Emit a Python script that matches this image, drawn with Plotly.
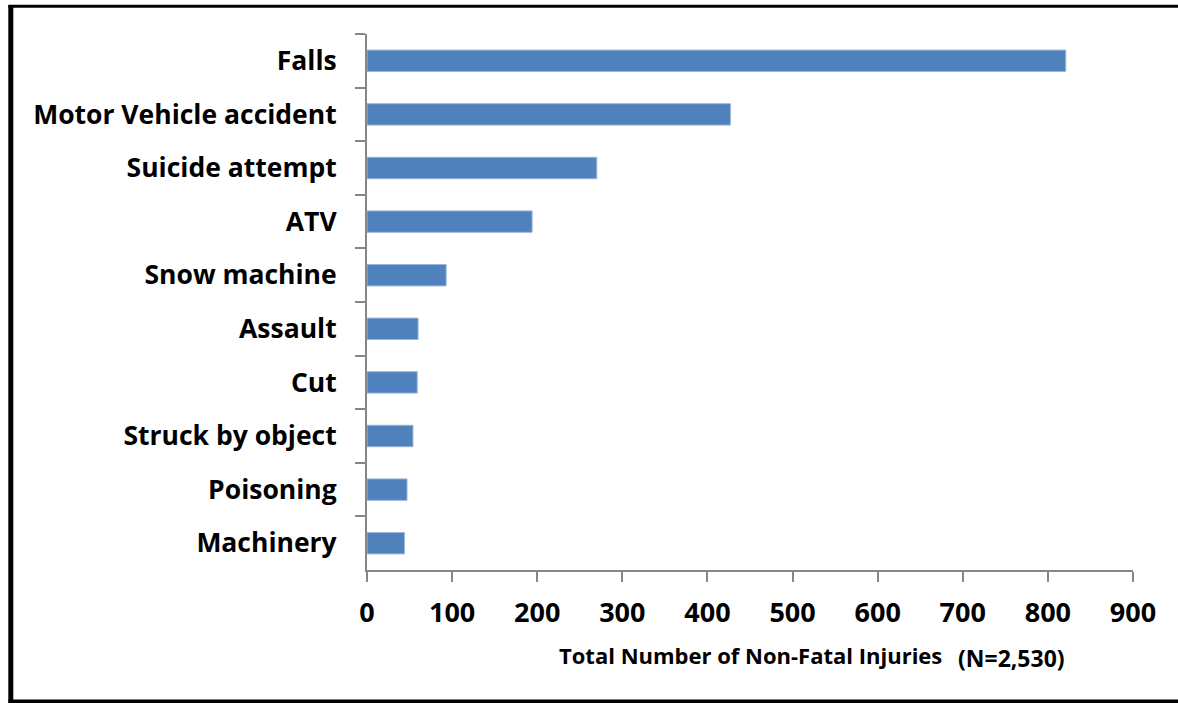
import plotly.graph_objects as go

categories = ["Falls", "Motor Vehicle accident", "Suicide attempt", "ATV", "Snow machine",
              "Assault", "Cut", "Struck by object", "Poisoning", "Machinery"]
values = [821, 427, 270, 194, 93, 60, 59, 54, 47, 44]
x_ticks = [0, 100, 200, 300, 400, 500, 600, 700, 800, 900]
x_title = "Total Number of Non-Fatal Injuries"
n_label = "(N=2,530)"

FONT = "Open Sans"
AXIS = "#868686"
W, H = 1178, 703
L, R, T, B = 367, 45, 34, 133
PW, PH = W - L - R, H - T - B


def px(x):
    return (x - L) / PW


def py(y):
    return (H - B - y) / PH


fig = go.Figure(go.Bar(
    x=values, y=categories, orientation="h",
    marker=dict(color="#4F81BD", line=dict(color="#9DB5D9", width=1)),
    width=0.4,
))

fig.update_layout(
    width=W, height=H,
    margin=dict(l=L, r=R, t=T, b=B),
    paper_bgcolor="white", plot_bgcolor="white",
    showlegend=False,
    font=dict(family=FONT, color="black"),
    xaxis=dict(
        range=[0, 900], tickvals=x_ticks, ticktext=[str(v) for v in x_ticks],
        showgrid=False, zeroline=False,
        showline=True, linecolor=AXIS, linewidth=2,
        ticks="outside", ticklen=10, tickwidth=2, tickcolor=AXIS,
        tickfont=dict(family=FONT, size=27, color="black", weight="bold"),
        ticklabelstandoff=8,
    ),
    yaxis=dict(
        categoryorder="array", categoryarray=categories, autorange="reversed",
        showgrid=False, zeroline=False,
        showline=True, linecolor=AXIS, linewidth=2,
        ticks="outside", ticklen=10, tickwidth=2, tickcolor=AXIS,
        tickson="boundaries",
        tickfont=dict(family=FONT, size=26.5, color="black", weight="bold"),
        ticklabelstandoff=23,
    ),
    annotations=[
        dict(text=x_title, xref="paper", yref="paper", x=px(750), y=py(655),
             xanchor="center", yanchor="middle", showarrow=False,
             font=dict(family=FONT, size=22, color="black", weight="bold")),
        dict(text=n_label, xref="paper", yref="paper", x=px(1011), y=py(658),
             xanchor="center", yanchor="middle", showarrow=False,
             font=dict(family=FONT, size=23, color="black", weight="bold")),
    ],
    shapes=[
        dict(type="line", xref="paper", yref="paper", x0=px(10.8), x1=px(10.8),
             y0=py(5), y1=py(703), line=dict(color="black", width=5), layer="above"),
        dict(type="line", xref="paper", yref="paper", x0=px(8.5), x1=px(1200),
             y0=py(6.3), y1=py(6.3), line=dict(color="black", width=3), layer="above"),
        dict(type="line", xref="paper", yref="paper", x0=px(8.5), x1=px(1200),
             y0=py(701.5), y1=py(701.5), line=dict(color="black", width=4), layer="above"),
    ],
)

fig.write_html("out.html", config={"displayModeBar": False},
               post_script="document.body.style.margin='0px';")
